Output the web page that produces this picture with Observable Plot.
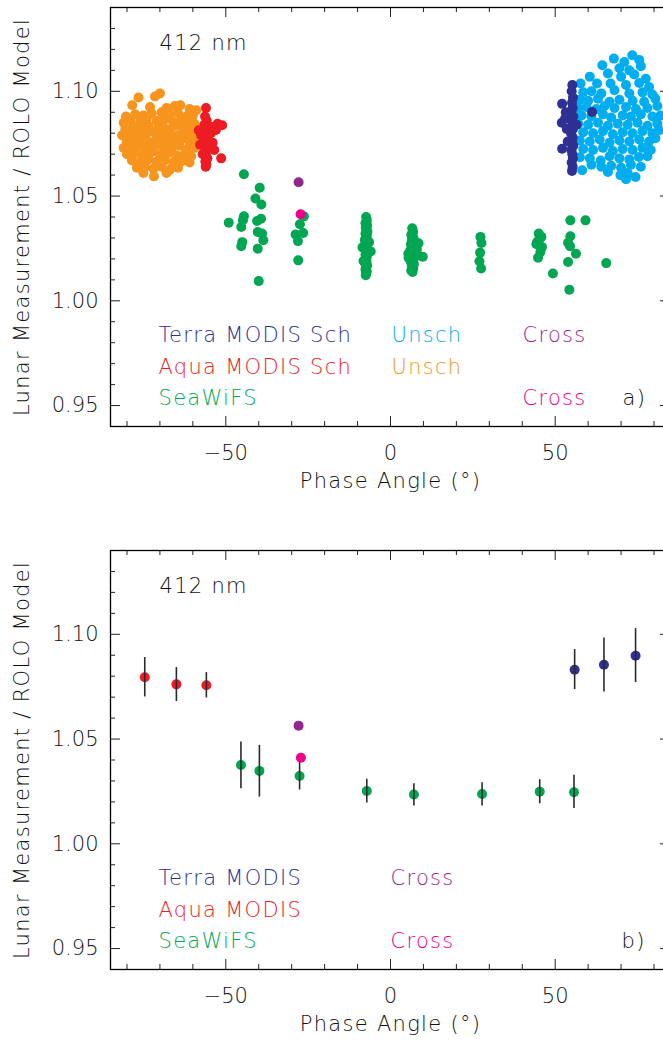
<!DOCTYPE html>
<html><head><meta charset="utf-8">
<script src="https://cdn.jsdelivr.net/npm/d3@7"></script>
<script src="https://cdn.jsdelivr.net/npm/@observablehq/plot@0.6"></script>
<style>
html,body{margin:0;padding:0;background:#fff;overflow:hidden;width:663px;height:1040px}
#chart{width:671px}
#chart svg{display:block;max-width:none !important;}
</style></head><body><div id="chart"></div>
<script>
// ---------- tick values ----------
const xMajorTicks = [-50, 0, 50];
const xMinorTicks = [-80,-70,-60,-40,-30,-20,-10,10,20,30,40,60,70,80];
const yMajorTicks = [0.95, 1.00, 1.05, 1.10];
const yMinorTicks = [0.96,0.97,0.98,0.99,1.01,1.02,1.03,1.04,1.06,1.07,1.08,1.09,1.11,1.12,1.13];

// ---------- panel a) individual measurements [phase angle, ratio] ----------
const aquaUnsch = [
[-70.0,1.0990],[-71.5,1.0975],[-76.5,1.0970],[-78.4,1.0933],[-73.0,1.0925],[-68.0,1.0920],[-65.5,1.0930],[-63.8,1.0933],[-61.0,1.0915],[-59.0,1.0910],
[-80.3,1.0880],[-77.5,1.0890],[-75.0,1.0885],[-72.5,1.0895],[-69.5,1.0900],[-67.0,1.0890],[-64.5,1.0895],[-62.0,1.0880],[-60.0,1.0885],[-81.0,1.0850],
[-79.0,1.0860],[-76.0,1.0855],[-74.0,1.0870],[-71.0,1.0860],[-68.5,1.0865],[-66.0,1.0855],[-63.5,1.0860],[-61.5,1.0850],[-59.5,1.0845],[-80.5,1.0820],
[-78.0,1.0830],[-75.5,1.0825],[-73.5,1.0835],[-70.5,1.0830],[-68.0,1.0820],[-65.5,1.0835],[-63.0,1.0825],[-60.5,1.0815],[-58.5,1.0800],[-81.5,1.0790],
[-79.5,1.0795],[-77.0,1.0800],[-74.5,1.0790],[-72.0,1.0805],[-69.5,1.0795],[-67.0,1.0800],[-64.5,1.0790],[-62.0,1.0795],[-60.0,1.0780],[-80.0,1.0760],
[-78.5,1.0770],[-76.0,1.0765],[-73.5,1.0760],[-71.0,1.0770],[-68.5,1.0765],[-66.0,1.0760],[-63.5,1.0770],[-61.0,1.0755],[-59.0,1.0760],[-81.0,1.0730],
[-79.0,1.0735],[-76.5,1.0740],[-74.0,1.0730],[-71.5,1.0740],[-69.0,1.0735],[-66.5,1.0730],[-64.0,1.0740],[-61.5,1.0725],[-59.5,1.0730],[-80.0,1.0700],
[-77.5,1.0705],[-75.0,1.0700],[-72.5,1.0710],[-70.0,1.0700],[-67.5,1.0705],[-65.0,1.0695],[-62.5,1.0700],[-60.5,1.0690],[-78.5,1.0670],[-76.0,1.0665],
[-73.5,1.0675],[-71.0,1.0665],[-68.5,1.0670],[-66.0,1.0660],[-63.5,1.0665],[-61.0,1.0660],[-77.0,1.0635],[-74.5,1.0640],[-72.0,1.0630],[-69.5,1.0640],
[-67.0,1.0625],[-64.5,1.0635],[-71.8,1.0594],[-68.0,1.0610],[-75.0,1.0610],[-70.0,1.0855],[-72.0,1.0745],[-66.5,1.0790],[-74.5,1.0815],[-69.0,1.0680]
];
const aquaSch = [
[-56.0,1.0920],[-56.3,1.0880],[-55.8,1.0860],[-56.5,1.0840],[-55.6,1.0820],[-56.2,1.0800],[-55.9,1.0785],[-56.4,1.0770],[-55.7,1.0755],[-56.1,1.0740],
[-55.8,1.0725],[-56.3,1.0710],[-56.0,1.0695],[-55.6,1.0680],[-56.2,1.0665],[-55.9,1.0650],[-56.1,1.0640],[-58.2,1.0814],[-57.5,1.0790],[-54.0,1.0830],
[-52.5,1.0845],[-51.1,1.0838],[-53.0,1.0815],[-54.5,1.0800],[-57.0,1.0700],[-53.5,1.0720],[-51.4,1.0680],[-54.0,1.0755],[-57.8,1.0745]
];
const terraUnsch = [
[67.8,1.1156],[73.4,1.1172],[71.0,1.1140],[75.5,1.1150],
[64.3,1.1124],[69.5,1.1110],[72.5,1.1100],[76.0,1.1120],
[60.5,1.1070],[66.0,1.1085],[70.0,1.1070],[74.0,1.1080],[77.5,1.1060],
[57.7,1.1037],[62.7,1.1037],[66.8,1.1037],[71.5,1.1030],[75.5,1.1040],[78.5,1.1020],
[58.5,1.0995],[61.0,1.1000],[64.0,1.0990],[68.0,1.1005],[72.5,1.0990],[76.5,1.0995],[79.5,1.0985],
[57.5,1.0960],[60.0,1.0955],[63.0,1.0965],[66.5,1.0950],[69.5,1.0960],[73.5,1.0955],[77.0,1.0950],[80.4,1.0965],
[57.0,1.0920],[59.5,1.0925],[62.5,1.0915],[65.0,1.0930],[68.0,1.0920],[71.5,1.0925],[74.5,1.0915],[78.0,1.0920],[81.0,1.0930],
[58.0,1.0885],[61.0,1.0880],[64.5,1.0890],[67.0,1.0875],[70.5,1.0885],[73.0,1.0880],[76.0,1.0890],[79.5,1.0880],[82.0,1.0885],
[57.0,1.0845],[60.0,1.0840],[63.0,1.0850],[66.0,1.0835],[69.0,1.0845],[72.0,1.0840],[75.0,1.0850],[78.0,1.0835],[81.0,1.0845],
[58.5,1.0805],[61.5,1.0800],[64.5,1.0810],[67.5,1.0795],[70.5,1.0805],[73.5,1.0800],[76.5,1.0810],[79.5,1.0800],[81.5,1.0814],
[57.5,1.0765],[60.5,1.0760],[63.5,1.0770],[66.5,1.0755],[69.5,1.0765],[72.5,1.0760],[75.5,1.0770],[78.5,1.0760],[80.4,1.0776],
[58.5,1.0725],[61.5,1.0720],[64.5,1.0730],[67.5,1.0715],[70.5,1.0725],[73.5,1.0720],[76.5,1.0730],[79.0,1.0720],
[57.5,1.0685],[60.5,1.0680],[63.8,1.0670],[66.5,1.0690],[69.5,1.0680],[72.5,1.0675],[75.4,1.0686],[78.0,1.0690],
[58.2,1.0623],[61.0,1.0650],[64.0,1.0640],[67.0,1.0645],[70.0,1.0635],[73.0,1.0650],[76.0,1.0640],
[69.8,1.0600],[72.0,1.0610],[74.4,1.0591],[66.0,1.0615],[71.5,1.0580]
];
const terraSch = [
[55.2,1.1030],[55.0,1.1000],[55.4,1.0970],[55.1,1.0945],[55.3,1.0920],[54.9,1.0900],[55.5,1.0880],[55.0,1.0860],[55.2,1.0840],[55.4,1.0820],
[54.8,1.0800],[55.3,1.0780],[55.1,1.0760],[55.5,1.0740],[54.9,1.0720],[55.2,1.0700],[55.4,1.0680],[55.0,1.0660],[55.3,1.0640],[55.1,1.0620],
[52.1,1.0940],[52.0,1.0850],[52.1,1.0726],[53.0,1.0870],[53.5,1.0820],[53.2,1.0900],[56.5,1.0840],[61.2,1.0901],[53.8,1.0760]
];
const seawifs = [
[-44.5,1.0604],[-49.1,1.0373],[-44.5,1.0403],[-45.3,1.0352],[-45.0,1.0280],[-45.3,1.0260],[-44.8,1.0385],
[-39.7,1.0540],[-41.0,1.0488],[-39.2,1.0460],[-40.5,1.0381],[-39.3,1.0392],[-40.3,1.0328],[-39.0,1.0321],[-38.6,1.0289],[-40.3,1.0249],[-40.0,1.0094],
[-27.5,1.0365],[-28.8,1.0317],[-26.5,1.0324],[-28.1,1.0285],[-28.0,1.0193],[-26.3,1.0403],
[-7.4,1.0400],[-7.2,1.0385],[-7.6,1.0370],[-7.1,1.0360],[-7.5,1.0350],[-7.3,1.0340],[-7.0,1.0330],[-7.6,1.0320],[-7.2,1.0310],[-7.4,1.0300],
[-7.8,1.0290],[-7.1,1.0280],[-7.5,1.0270],[-7.3,1.0260],[-7.7,1.0250],[-7.0,1.0240],[-7.4,1.0230],[-7.6,1.0220],[-7.2,1.0210],[-7.5,1.0200],
[-7.3,1.0190],[-7.7,1.0180],[-7.1,1.0170],[-7.4,1.0160],[-7.6,1.0150],[-7.2,1.0140],[-7.4,1.0130],[-7.5,1.0122],[-8.5,1.0255],[-6.0,1.0235],[-8.2,1.0190],[-6.5,1.0280],
[6.6,1.0346],[6.9,1.0330],[6.3,1.0315],[7.0,1.0300],[6.5,1.0290],[6.8,1.0280],[6.2,1.0270],[7.2,1.0260],[6.6,1.0250],[6.0,1.0240],[7.0,1.0230],
[6.4,1.0220],[8.2,1.0215],[5.5,1.0205],[6.8,1.0195],[6.2,1.0185],[7.1,1.0175],[6.5,1.0165],[6.9,1.0155],[6.3,1.0145],[6.7,1.0138],[8.0,1.0245],[5.4,1.0225],[9.8,1.0210],[8.5,1.0275],
[27.3,1.0305],[27.6,1.0276],[27.2,1.0230],[27.0,1.0189],[27.5,1.0154],
[45.0,1.0321],[45.8,1.0305],[44.5,1.0281],[46.0,1.0257],[44.3,1.0270],[45.5,1.0233],[44.8,1.0206],[45.2,1.0295],
[49.3,1.0130],
[54.6,1.0384],[59.2,1.0384],[54.6,1.0308],[53.9,1.0277],[56.3,1.0225],[54.5,1.0260],[53.9,1.0185],[54.3,1.0053],[65.5,1.0180]
];
const crossTerra = [[-27.9,1.0566]];
const crossAqua  = [[-27.3,1.0413]];

// ---------- panel b) averages with error bars [phase, mean, low, high] ----------
const aquaMean = [
[-74.6,1.0795,1.0701,1.0889],[-65.0,1.0761,1.0679,1.0841],[-55.9,1.0757,1.0696,1.0817]
];
const seawifsMean = [
[-45.4,1.0376,1.0263,1.0486],[-39.8,1.0348,1.0223,1.0470],[-27.6,1.0324,1.0257,1.0388],[-7.2,1.0252,1.0195,1.0308],
[7.1,1.0235,1.0180,1.0287],[27.8,1.0238,1.0180,1.0292],[45.3,1.0249,1.0191,1.0306],[55.7,1.0246,1.0168,1.0327]
];
const terraMean = [
[55.9,1.0831,1.0736,1.0927],[64.8,1.0855,1.0725,1.0982],[74.4,1.0898,1.0770,1.1027]
];
const crossTerraMean = [[-27.9,1.0564]];
const crossAquaMean  = [[-27.2,1.0411]];

// ---------- labels ----------
const wavelengthLabel = "412 nm";
const xLabel = "Phase Angle (°)";
const yLabel = "Lunar Measurement / ROLO Model";
const legendA = {col1:["Terra MODIS Sch","Aqua MODIS Sch","SeaWiFS"], col2:["Unsch","Unsch"], col3:["Cross","Cross"], tag:"a)"};
const legendB = {col1:["Terra MODIS","Aqua MODIS","SeaWiFS"], col3:["Cross","Cross"], tag:"b)"};

const C = {navy:"#2e3192", red:"#ed1c24", orange:"#f7941d", cyan:"#00aeef", green:"#00a651", purple:"#92278f", magenta:"#ec008c"};
const FONT = "'DejaVu Sans', 'Liberation Sans', sans-serif";
const FW = 560; // frame width px (x range 110..670)
const FH = 419; // frame height px

function axesMarks(){
  const fmtY = d3.format(".2f"), fmtX = d3.format(".0f");
  const tk = {stroke:"#222", strokeWidth:1};
  return [
    Plot.tickY(yMajorTicks,{y:d=>d, insetRight:FW-10, ...tk}),
    Plot.tickY(yMajorTicks,{y:d=>d, insetLeft:FW-10, ...tk}),
    Plot.tickY(yMinorTicks,{y:d=>d, insetRight:FW-5, ...tk}),
    Plot.tickY(yMinorTicks,{y:d=>d, insetLeft:FW-5, ...tk}),
    Plot.tickX(xMajorTicks,{x:d=>d, insetTop:FH-10, ...tk}),
    Plot.tickX(xMajorTicks,{x:d=>d, insetBottom:FH-10, ...tk}),
    Plot.tickX(xMinorTicks,{x:d=>d, insetTop:FH-5, ...tk}),
    Plot.tickX(xMinorTicks,{x:d=>d, insetBottom:FH-5, ...tk}),
    Plot.frame({stroke:"#000", strokeWidth:1.3}),
    Plot.text(yMajorTicks,{y:d=>d, frameAnchor:"left", dx:-12, textAnchor:"end", lineAnchor:"middle", text:d=>fmtY(d), fill:"#111"}),
    Plot.text(xMajorTicks,{x:d=>d, frameAnchor:"bottom", dy:27, textAnchor:"middle", lineAnchor:"middle", text:d=>fmtX(d), fill:"#111"}),
    Plot.text([xLabel],{frameAnchor:"bottom", dy:55, textAnchor:"middle", lineAnchor:"middle", text:d=>d, fill:"#111"}),
    Plot.text([yLabel],{frameAnchor:"left", dx:-88, rotate:-90, textAnchor:"middle", lineAnchor:"middle", text:d=>d, fill:"#111"}),
    Plot.text([wavelengthLabel],{frameAnchor:"top-left", dx:49, dy:36, textAnchor:"start", lineAnchor:"middle", text:d=>d, fill:"#111"})
  ];
}
function legendCol(labels, colors, dx, rows){
  return labels.map((t,i)=>Plot.text([t],{frameAnchor:"bottom-left", dx, dy:rows[i], textAnchor:"start", lineAnchor:"middle", text:d=>d, fill:colors[i]}));
}
const rowDy = [-91,-59,-28];

function makePlot(height, marginTop, marginBottom, marks){
  return Plot.plot({
    width: 671, height, marginLeft:110, marginRight:1, marginTop, marginBottom,
    x:{domain:[-85,85], axis:null},
    y:{domain:[0.94,1.14], axis:null},
    style:{fontFamily:FONT, fontSize:"21px", fontWeight:300, background:"#fff", overflow:"visible", color:"#111", maxWidth:"none"},
    marks
  });
}
const dotOpt = (c)=>({x:d=>d[0], y:d=>d[1], r:5, fill:c, stroke:"none"});

const plotA = makePlot(510, 7, 84, [
  Plot.dot(aquaUnsch, dotOpt(C.orange)),
  Plot.dot(terraUnsch, dotOpt(C.cyan)),
  Plot.dot(aquaSch, dotOpt(C.red)),
  Plot.dot(terraSch, dotOpt(C.navy)),
  Plot.dot(seawifs, dotOpt(C.green)),
  Plot.dot(crossTerra, dotOpt(C.purple)),
  Plot.dot(crossAqua, dotOpt(C.magenta)),
  ...axesMarks(),
  ...legendCol(legendA.col1,[C.navy,C.red,C.green],48,rowDy),
  ...legendCol(legendA.col2,[C.cyan,C.orange],281,rowDy),
  ...legendCol(legendA.col3,[C.purple,C.magenta],412,[rowDy[0],rowDy[2]]),
  Plot.text([legendA.tag],{frameAnchor:"bottom-left", dx:512, dy:-28, textAnchor:"start", lineAnchor:"middle", text:d=>d, fill:"#111"})
]);

const barOpt = {x:d=>d[0], y1:d=>d[2], y2:d=>d[3], stroke:"#2a2a2a", strokeWidth:1.6};
const plotB = makePlot(530, 40, 71, [
  Plot.dot(aquaMean, dotOpt(C.red)),
  Plot.dot(seawifsMean, dotOpt(C.green)),
  Plot.dot(terraMean, dotOpt(C.navy)),
  Plot.ruleX(aquaMean, barOpt),
  Plot.ruleX(seawifsMean, barOpt),
  Plot.ruleX(terraMean, barOpt),
  Plot.dot(crossTerraMean, dotOpt(C.purple)),
  Plot.dot(crossAquaMean, dotOpt(C.magenta)),
  ...axesMarks(),
  ...legendCol(legendB.col1,[C.navy,C.red,C.green],48,rowDy),
  ...legendCol(legendB.col3,[C.purple,C.magenta],280,[rowDy[0],rowDy[2]]),
  Plot.text([legendB.tag],{frameAnchor:"bottom-left", dx:511, dy:-28, textAnchor:"start", lineAnchor:"middle", text:d=>d, fill:"#111"})
]);

const host = document.getElementById("chart");
host.append(plotA, plotB);
// wide letter spacing of the original vector font (non-numeric labels only)
d3.selectAll("#chart svg text")
  .filter(function(){ return !/^[−\-]?\d+(\.\d+)?$/.test(this.textContent); })
  .style("letter-spacing","1.3px");
</script></body></html>
